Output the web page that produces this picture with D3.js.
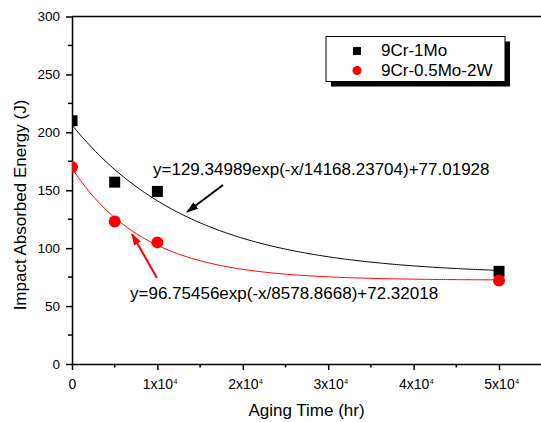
<!DOCTYPE html>
<html lang="en">
<head>
<meta charset="UTF-8">
<title>Impact Absorbed Energy vs Aging Time</title>
<script src="https://cdn.jsdelivr.net/npm/d3@7"></script>
<style>
  body { margin: 0; background: #fff; }
  svg { font-family: "Liberation Sans", Arial, sans-serif; }
</style>
</head>
<body>
<svg width="541" height="422"></svg>
<script>
// data
var agingTime = [0, 5000, 10000, 50000];
var energyMo = [210, 157, 149, 80];       // 9Cr-1Mo
var energyW = [170, 123, 105, 72];        // 9Cr-0.5Mo-2W
var seriesNames = ["9Cr-1Mo", "9Cr-0.5Mo-2W"];
// fit parameters printed on the chart: y = A*exp(-x/t)+y0
var fitMo = [129.34989, 14168.23704, 77.01928];
var fitW = [96.75456, 8578.8668, 72.32018];
var fitLabels = ["y=129.34989exp(-x/14168.23704)+77.01928",
                 "y=96.75456exp(-x/8578.8668)+72.32018"];
var yTicks = [0, 50, 100, 150, 200, 250, 300];
var xTicks = [0, 10000, 20000, 30000, 40000, 50000];

var svg = d3.select("svg");

var x = d3.scaleLinear().domain([0, 55000]).range([72, 541.7]);
var y = d3.scaleLinear().domain([0, 300]).range([364, 16.5]);

// clip so the markers at x=0 hide behind the axis
svg.append("defs").append("clipPath").attr("id", "plot")
    .append("rect").attr("x", 72).attr("y", 0).attr("width", 480).attr("height", 364);

// top line
svg.append("line")
    .attr("x1", 72).attr("x2", 541).attr("y1", y(300)).attr("y2", y(300))
    .attr("stroke", "black").attr("stroke-width", 1.5);

// y axis
var yAxis = svg.append("g")
    .attr("transform", "translate(72,0)")
    .call(d3.axisLeft(y).tickValues(yTicks).tickSize(6).tickPadding(6).tickSizeOuter(0));
yAxis.selectAll(".tick text").attr("font-size", 13.5).attr("fill", "black");
// minor y ticks
svg.append("g").selectAll("line")
    .data([25, 75, 125, 175, 225, 275])
    .enter().append("line")
    .attr("x1", 68).attr("x2", 72)
    .attr("y1", d => y(d)).attr("y2", d => y(d))
    .attr("stroke", "black").attr("stroke-width", 1.5);

// x axis
var xAxis = svg.append("g")
    .attr("transform", "translate(0,364)")
    .call(d3.axisBottom(x).tickValues(xTicks).tickSize(6).tickPadding(5).tickSizeOuter(0).tickFormat(""));
svg.selectAll(".domain").attr("stroke-width", 1.5);
svg.selectAll(".tick line").attr("stroke-width", 1.5);
xAxis.selectAll(".tick").each(function(d) {
    var g = d3.select(this);
    var t = g.append("text")
        .attr("y", 24.5).attr("fill", "black").attr("font-size", 14).attr("text-anchor", "middle")
        .text(d === 0 ? "0" : (d / 10000) + "x10");
    if (d !== 0) {
        var w = t.node().getComputedTextLength();
        g.append("text")
            .attr("x", w / 2 + 0.5).attr("y", 19.5)
            .attr("fill", "black").attr("font-size", 7).attr("text-anchor", "start")
            .text("4");
    }
});
// minor x ticks
svg.append("g").selectAll("line")
    .data([5000, 15000, 25000, 35000, 45000])
    .enter().append("line")
    .attr("x1", d => x(d)).attr("x2", d => x(d))
    .attr("y1", 364).attr("y2", 367.5)
    .attr("stroke", "black").attr("stroke-width", 1.5);

// axis titles
svg.append("text")
    .attr("x", 306.5).attr("y", 416)
    .attr("text-anchor", "middle").attr("font-size", 17)
    .text("Aging Time (hr)");
svg.append("text")
    .attr("transform", "translate(26,205) rotate(-90)")
    .attr("text-anchor", "middle").attr("font-size", 17)
    .text("Impact Absorbed Energy (J)");

// fit curves
var plot = svg.append("g").attr("clip-path", "url(#plot)");
var fitX = d3.range(0, 50001, 250);
function fitLine(p) {
    return d3.line()
        .x(d => x(d))
        .y(d => y(p[0] * Math.exp(-d / p[1]) + p[2]))(fitX);
}
plot.append("path").attr("d", fitLine(fitMo))
    .attr("fill", "none").attr("stroke", "black").attr("stroke-width", 1);
plot.append("path").attr("d", fitLine(fitW))
    .attr("fill", "none").attr("stroke", "red").attr("stroke-width", 1);

// markers
plot.selectAll("rect.mo")
    .data(agingTime)
    .enter().append("rect")
    .attr("class", "mo")
    .attr("x", d => x(d) - 5.5).attr("y", (d, i) => y(energyMo[i]) - 5.5)
    .attr("width", 11).attr("height", 11)
    .attr("fill", "black");
plot.selectAll("circle.w")
    .data(agingTime)
    .enter().append("circle")
    .attr("class", "w")
    .attr("cx", d => x(d)).attr("cy", (d, i) => y(energyW[i]))
    .attr("r", 6)
    .attr("fill", "red");

// arrows
var defs = svg.select("defs");
[["arrBlack", "black"], ["arrRed", "red"]].forEach(function(a) {
    defs.append("marker")
        .attr("id", a[0])
        .attr("viewBox", "0 0 12 8")
        .attr("refX", 11).attr("refY", 4)
        .attr("markerWidth", 6).attr("markerHeight", 4)
        .attr("markerUnits", "strokeWidth")
        .attr("orient", "auto")
        .append("path").attr("d", "M0,0 L12,4 L0,8 z").attr("fill", a[1]);
});
svg.append("line")
    .attr("x1", 223).attr("y1", 185).attr("x2", 187).attr("y2", 212)
    .attr("stroke", "black").attr("stroke-width", 2)
    .attr("marker-end", "url(#arrBlack)");
svg.append("line")
    .attr("x1", 157).attr("y1", 278).attr("x2", 132).attr("y2", 234)
    .attr("stroke", "red").attr("stroke-width", 2)
    .attr("marker-end", "url(#arrRed)");

// equations
svg.append("text")
    .attr("x", 153).attr("y", 175).attr("font-size", 17)
    .text(fitLabels[0]);
svg.append("text")
    .attr("x", 130).attr("y", 299).attr("font-size", 17)
    .text(fitLabels[1]);

// legend with shadow
var legend = svg.append("g");
legend.append("rect")
    .attr("x", 331).attr("y", 41.5).attr("width", 179).attr("height", 45)
    .attr("fill", "black");
legend.append("rect")
    .attr("x", 326).attr("y", 36.5).attr("width", 179).attr("height", 45)
    .attr("fill", "white").attr("stroke", "black").attr("stroke-width", 1);
legend.append("rect")
    .attr("x", 353).attr("y", 47).attr("width", 8).attr("height", 8)
    .attr("fill", "black");
legend.append("circle")
    .attr("cx", 357).attr("cy", 70.5).attr("r", 4.5)
    .attr("fill", "red");
legend.selectAll("text.lab")
    .data(seriesNames)
    .enter().append("text")
    .attr("class", "lab")
    .attr("x", 381).attr("y", (d, i) => 55.5 + i * 20)
    .attr("font-size", 17)
    .text(d => d);
</script>
</body>
</html>
